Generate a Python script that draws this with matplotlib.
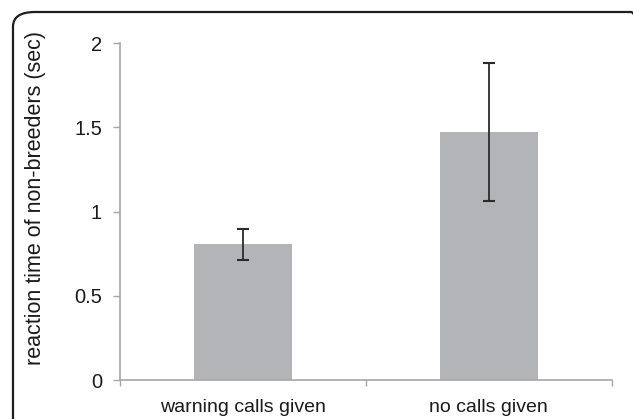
import matplotlib
matplotlib.use("Agg")
import matplotlib.pyplot as plt
from matplotlib.patches import FancyBboxPatch

plt.rcParams['font.family'] = ['Liberation Sans', 'DejaVu Sans']

categories = ["warning calls given", "no calls given"]
means = [0.805, 1.475]
errors = [0.09, 0.41]
yticks = [0, 0.5, 1, 1.5, 2]
ytick_labels = ["0", "0.5", "1", "1.5", "2"]

W, H = 633, 419
fig = plt.figure(figsize=(W / 100, H / 100), dpi=100)

# rounded frame
frame = FancyBboxPatch((13 / W, -30 / H), (W + 20 - 13) / W, (H + 30 - 12) / H,
                       boxstyle="round,pad=0,rounding_size=0.035",
                       transform=fig.transFigure, fill=False,
                       edgecolor="#1e1e1e", linewidth=1.6, clip_on=False)
fig.patches.append(frame)

ax = fig.add_axes([120 / W, 39 / H, (611.7 - 120) / W, (380 - 43.3) / H])
x = list(range(len(categories)))
ax.bar(x, means, width=0.4, color="#b3b4b8", zorder=2)
ax.errorbar(x, means, yerr=errors, fmt="none", ecolor="#2b2b2b",
            elinewidth=1.3, capsize=4, capthick=1.5, zorder=3)

ax.set_xlim(-0.5, 1.5)
ax.set_ylim(0, 2)
ax.set_yticks(yticks)
ax.set_yticklabels(ytick_labels)
ax.set_xticks(x)
ax.set_xticklabels(categories)
ax.set_xticks([-0.5, 0.5, 1.5], minor=True)

for s in ["top", "right"]:
    ax.spines[s].set_visible(False)
for s in ["left", "bottom"]:
    ax.spines[s].set_color("#a6a6a6")
    ax.spines[s].set_linewidth(1.2)

ax.tick_params(axis="y", length=5, width=1.0, color="#a6a6a6", pad=8,
               labelsize=14.5, labelcolor="#1a1a1a")
ax.tick_params(axis="x", which="major", length=0, pad=14,
               labelsize=14, labelcolor="#1a1a1a")
ax.tick_params(axis="x", which="minor", length=4.5, width=1.0, color="#a6a6a6")

fig.text(36 / W, 1 - 198 / H, "reaction time of non-breeders (sec)",
         rotation=90, ha="center", va="center", fontsize=15.5, color="#1a1a1a")

fig.savefig("out.png", dpi=100)
